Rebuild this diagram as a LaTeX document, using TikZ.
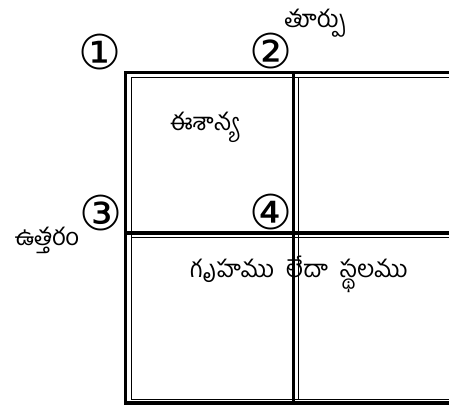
\documentclass[tikz,border=0pt]{standalone}
\usepackage{fontspec}
\usepackage{tikz}
\usetikzlibrary{positioning, calc}
\newfontfamily\telugufont[Script=Telugu]{Hind Guntur}
\newfontfamily\symfont{DejaVu Sans}
\definecolor{gridblack}{HTML}{000000}

\begin{document}
\begin{tikzpicture}[
    x=1pt, y=-1pt,
    thickline/.style={draw=gridblack, line width=3.2pt},
    thinline/.style={draw=gridblack, line width=0.9pt},
    cornernum/.style={font=\symfont\fontsize{48}{48}\selectfont, inner sep=0pt},
    dirlabel/.style={font=\telugufont\fontsize{24}{26}\selectfont, inner sep=0pt},
]
\useasboundingbox (0,0) rectangle (449,406);
\clip (0,0) rectangle (449,406);

% outer frame and middle cross
\draw[thickline] (460,72.5) -- (125.5,72.5) -- (125.5,403) -- (460,403);
\draw[thickline] (293.5,72.5) -- (293.5,403);
\draw[thickline] (125.5,233) -- (460,233);

% inner thin lines
\draw[thinline] (460,77.8) -- (131,77.8) -- (131,399.5) -- (460,399.5);
\draw[thinline] (298.6,77.8) -- (298.6,399.5);
\draw[thinline] (131,237.6) -- (460,237.6);

% corner numbers
\node[cornernum] (one) at (100,52) {①};
\node[cornernum] (two) at (271,51) {②};
\node[cornernum] (three) at (101,213) {③};
\node[cornernum] (four) at (271,212) {④};

% labels
\node[dirlabel] (east) at (315,23) {తూర్పు};
\node[dirlabel] (north) at (47,240) {ఉత్తరం};
\node[dirlabel] (corner) at (204,127) {ఈశాన్య};
\node[dirlabel] (plot) at (299,274) {గృహము \ లేదా \ స్థలము};
\end{tikzpicture}
\end{document}
